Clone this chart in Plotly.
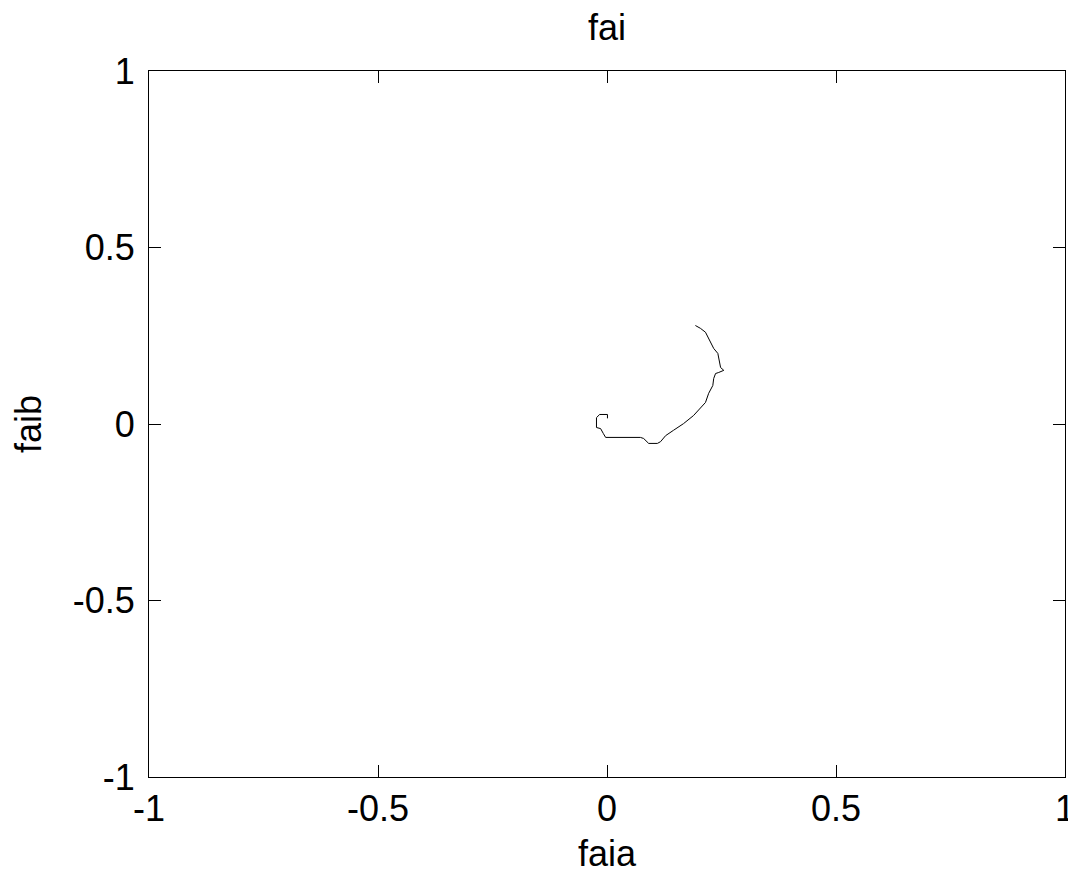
import plotly.graph_objects as go

# trajectory of faia / faib
faia = [0.001, 0.001, -0.016, -0.023, -0.023, -0.014, -0.008, -0.003, 0.073, 0.080,
        0.091, 0.110, 0.117, 0.128, 0.145, 0.167, 0.189, 0.204, 0.215, 0.222,
        0.231, 0.233, 0.237, 0.244, 0.255, 0.248, 0.244, 0.242, 0.233, 0.226,
        0.215, 0.204, 0.193]
faib = [0.016, 0.027, 0.027, 0.018, -0.010, -0.013, -0.027, -0.038, -0.038, -0.041,
        -0.055, -0.055, -0.050, -0.033, -0.018, 0.001, 0.024, 0.044, 0.061, 0.087,
        0.109, 0.129, 0.143, 0.146, 0.152, 0.160, 0.186, 0.200, 0.214, 0.231,
        0.260, 0.271, 0.279]

tick_vals = [-1, -0.5, 0, 0.5, 1]
tick_text = ["-1", "-0.5", "0", "0.5", "1"]

font = dict(family="Liberation Sans, Arial", size=36, color="black")

fig = go.Figure(go.Scatter(x=faia, y=faib, mode="lines",
                           line=dict(color="black", width=1)))

axis = dict(range=[-1, 1], tickvals=tick_vals, ticktext=tick_text,
            ticks="inside", ticklen=12, tickwidth=1, tickcolor="black",
            showline=True, linecolor="black", linewidth=1, mirror="ticks",
            showgrid=False, zeroline=False, tickfont=font, automargin=False)

# the page body adds an 8px margin, so margins are shifted by 8px
fig.update_layout(
    width=1076, height=876,
    margin=dict(l=141, r=19, t=63, b=107),
    plot_bgcolor="white", paper_bgcolor="white",
    showlegend=False,
    title=dict(text="fai", font=font, x=0.5, xref="paper",
               y=1 - 19 / 876, yanchor="middle"),
    xaxis=dict(axis, title=dict(text="faia", font=font, standoff=12)),
    yaxis=dict(axis, title=dict(text="faib", font=font, standoff=30),
               ticklabelstandoff=6),
)

fig.write_html("out.html")
